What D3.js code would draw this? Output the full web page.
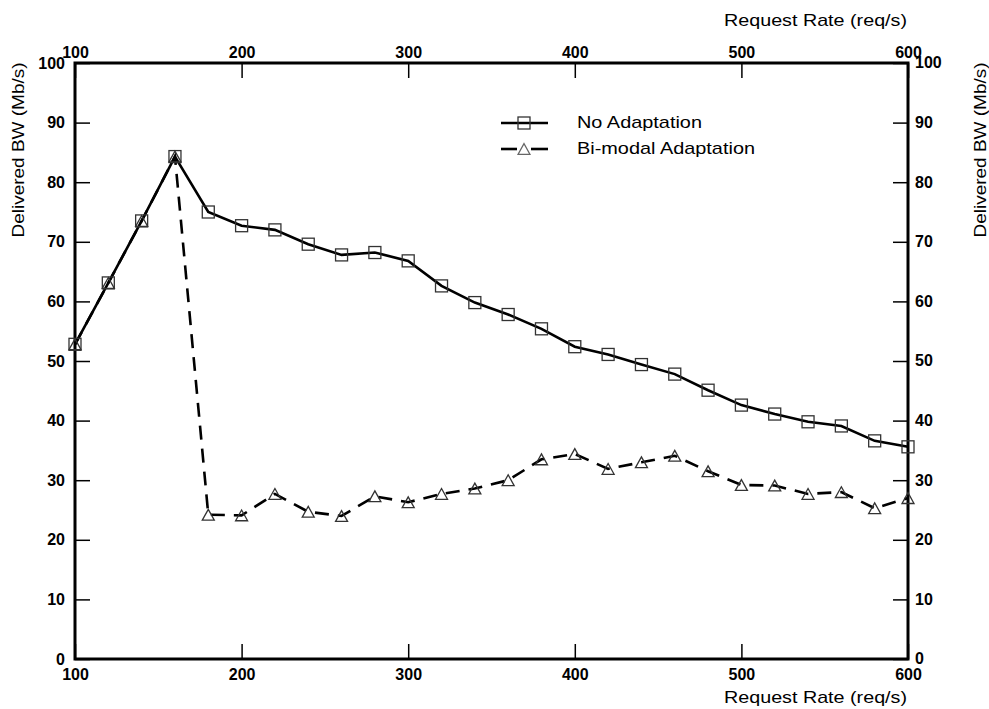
<!DOCTYPE html>
<html><head><meta charset="utf-8">
<script src="https://cdn.jsdelivr.net/npm/d3@7"></script>
<style>body{margin:0;background:#fff}svg{display:block}</style>
</head><body>
<script>
const rates = [100,120,140,160,180,200,220,240,260,280,300,320,340,360,380,400,420,440,460,480,500,520,540,560,580,600];
const noAdaptation = [52.8,63.1,73.5,84.3,75.0,72.7,72.0,69.6,67.8,68.2,66.8,62.6,59.8,57.8,55.4,52.4,51.1,49.4,47.8,45.1,42.6,41.1,39.8,39.1,36.6,35.6];
const bimodal = [52.8,63.1,73.5,84.3,24.2,24.1,27.7,24.7,24.0,27.3,26.3,27.7,28.6,30.0,33.5,34.4,31.9,33.0,34.1,31.5,29.2,29.1,27.7,28.0,25.3,27.0];
const xTicks = [100,200,300,400,500,600];
const yTicks = [0,10,20,30,40,50,60,70,80,90,100];
const seriesNames = ["No Adaptation","Bi-modal Adaptation"];
const xTitle = "Request Rate (req/s)";
const yTitle = "Delivered BW (Mb/s)";

const W = 989, H = 709;
const L = 75, R = 908, T = 63, B = 659;
const svg = d3.select("body").append("svg").attr("width", W).attr("height", H);
const x = d3.scaleLinear().domain([100,600]).range([L,R]);
const y = d3.scaleLinear().domain([0,100]).range([B,T]);
const font = "'Liberation Sans', Arial, Helvetica, sans-serif";

const tickLen = 15;
function styleAxis(g){
  g.select(".domain").remove();
  g.selectAll(".tick line").attr("stroke","#000").attr("stroke-width",1.5);
  g.selectAll(".tick text").attr("font-family",font).attr("font-weight","bold").attr("font-size",16).attr("fill","#000");
}
svg.append("g").attr("transform",`translate(0,${B})`)
  .call(d3.axisBottom(x).tickValues(xTicks).tickSize(-tickLen).tickFormat(d3.format("d")))
  .call(styleAxis)
  .call(g=>g.selectAll(".tick text").attr("y",21).attr("dy",0));
svg.append("g").attr("transform",`translate(0,${T})`)
  .call(d3.axisTop(x).tickValues(xTicks).tickSize(-tickLen).tickFormat(d3.format("d")))
  .call(styleAxis)
  .call(g=>g.selectAll(".tick text").attr("y",-5).attr("dy",0));
svg.append("g").attr("transform",`translate(${L},0)`)
  .call(d3.axisLeft(y).tickValues(yTicks).tickSize(-tickLen).tickFormat(d3.format("d")))
  .call(styleAxis)
  .call(g=>g.selectAll(".tick text").attr("x",-10));
svg.append("g").attr("transform",`translate(${R},0)`)
  .call(d3.axisRight(y).tickValues(yTicks).tickSize(-tickLen).tickFormat(d3.format("d")))
  .call(styleAxis)
  .call(g=>g.selectAll(".tick text").attr("x",7).attr("dy","0.3em"));

svg.append("rect").attr("x",L).attr("y",T).attr("width",R-L).attr("height",B-T)
  .attr("fill","none").attr("stroke","#000").attr("stroke-width",3);

function stretched(sel, len){ return sel.attr("textLength",len).attr("lengthAdjust","spacingAndGlyphs"); }
stretched(svg.append("text").attr("x",907).attr("y",26).attr("text-anchor","end")
  .attr("font-family",font).attr("font-size",17).text(xTitle),183);
stretched(svg.append("text").attr("x",907).attr("y",703).attr("text-anchor","end")
  .attr("font-family",font).attr("font-size",17).text(xTitle),183);
stretched(svg.append("text").attr("transform","translate(24,150) rotate(-90)").attr("text-anchor","middle")
  .attr("font-family",font).attr("font-size",17).text(yTitle),175);
stretched(svg.append("text").attr("transform","translate(986,150) rotate(-90)").attr("text-anchor","middle")
  .attr("font-family",font).attr("font-size",17).text(yTitle),175);

const line = d3.line().x(d=>x(d[0])).y(d=>y(d[1]));
const d1 = rates.map((r,i)=>[r,noAdaptation[i]]);
const d2 = rates.map((r,i)=>[r,bimodal[i]]);
svg.append("path").datum(d2).attr("d",line).attr("fill","none").attr("stroke","#000")
  .attr("stroke-width",2.6).attr("stroke-dasharray","14,9");
svg.append("path").datum(d1).attr("d",line).attr("fill","none").attr("stroke","#000").attr("stroke-width",2.6);

function triPath(cx,cy,s){
  const h = s*0.9;
  return `M${cx},${cy-h/2}L${cx+s/2},${cy+h/2}L${cx-s/2},${cy+h/2}Z`;
}
const mk = "#333";
svg.append("g").selectAll("rect").data(d1).join("rect")
  .attr("x",d=>x(d[0])-6).attr("y",d=>y(d[1])-6).attr("width",12).attr("height",12)
  .attr("fill","none").attr("stroke",mk).attr("stroke-width",1.3);
svg.append("g").selectAll("path").data(d2).join("path")
  .attr("d",d=>triPath(x(d[0]),y(d[1]),12))
  .attr("fill","none").attr("stroke",mk).attr("stroke-width",1.3);

const lg = svg.append("g");
lg.append("line").attr("x1",501).attr("x2",548).attr("y1",123).attr("y2",123).attr("stroke","#000").attr("stroke-width",2.6);
lg.append("rect").attr("x",518).attr("y",117).attr("width",12).attr("height",12).attr("fill","none").attr("stroke",mk).attr("stroke-width",1.3);
lg.append("line").attr("x1",501).attr("x2",517).attr("y1",149).attr("y2",149).attr("stroke","#000").attr("stroke-width",2.6);
lg.append("line").attr("x1",531).attr("x2",548).attr("y1",149).attr("y2",149).attr("stroke","#000").attr("stroke-width",2.6);
lg.append("path").attr("d",triPath(524,149,12)).attr("fill","none").attr("stroke","#666").attr("stroke-width",1.2);
stretched(lg.append("text").attr("x",577).attr("y",128).attr("font-family",font).attr("font-size",17).text(seriesNames[0]),125);
stretched(lg.append("text").attr("x",577).attr("y",154).attr("font-family",font).attr("font-size",17).text(seriesNames[1]),178);
</script>
</body></html>
